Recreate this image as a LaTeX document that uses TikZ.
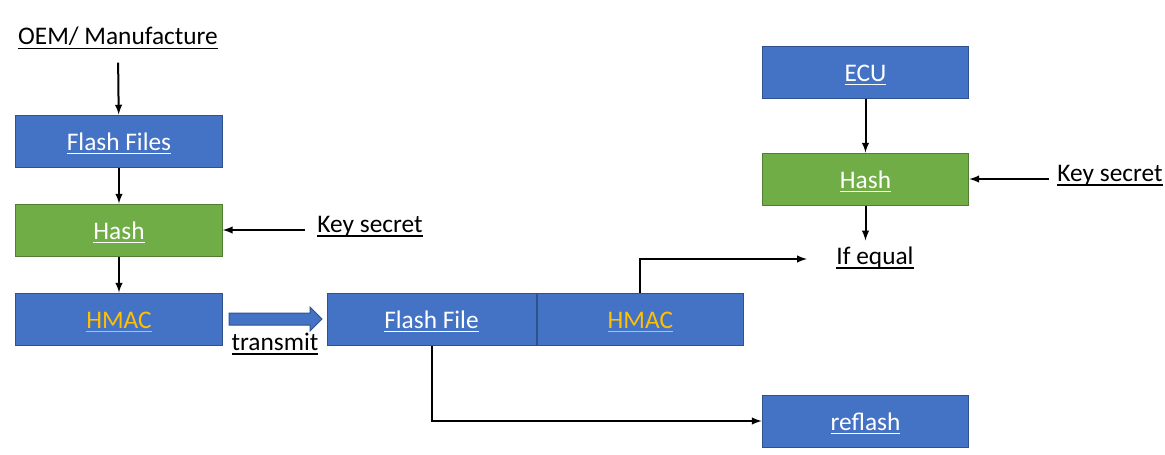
\documentclass[tikz,border=0pt]{standalone}
\usepackage{fontspec}
\setmainfont{Carlito}
\usetikzlibrary{positioning}
\definecolor{boxblue}{HTML}{4472C4}
\definecolor{boxblueline}{HTML}{2F528F}
\definecolor{boxgreen}{HTML}{70AD47}
\definecolor{boxgreenline}{HTML}{507E32}
\definecolor{hmacgold}{HTML}{FFC000}
\newcommand{\ulbl}[1]{\setbox0\hbox{#1}\rlap{\raisebox{-3pt}{\rule{\wd0}{1.1pt}}}\box0}
\begin{document}
\begin{tikzpicture}
	[	x=0.75pt,y=-0.75pt,font=\fontsize{19}{23}\selectfont,
	bluebox/.style={rectangle,draw=boxblueline, fill=boxblue,line width=0.75pt,minimum width=155pt,minimum height=39pt,inner sep=0pt,text=white,text height=17pt,text depth=3pt},
	greenbox/.style={bluebox,draw=boxgreenline,fill=boxgreen},
	plain/.style={draw=none,fill=none,inner sep=1pt,text height=14pt,text depth=4pt},
	arr/.style={->,>=latex,line width=1.5pt}
	]
	\useasboundingbox (0,0) rectangle (1165,454);
	\node[plain] (oem) at (118,38.3){\ulbl{OEM/ Manufacture}};
	\node[bluebox] (files) at (119,141){\ulbl{Flash Files}};
	\node[greenbox] (hashA) at (119,230){\ulbl{Hash}};
	\node[bluebox] (hmacA) at (119,319){\color{hmacgold}\ulbl{HMAC}};
	\node[plain] (keyA) at (370,226){\ulbl{Key secret}};
	\node[plain] (transmit) at (275,344){\ulbl{transmit}};
	\node[bluebox,minimum width=156.75pt] (file) at (431.5,319){\ulbl{Flash File}};
	\node[bluebox,right=0pt of file] (hmacB){\color{hmacgold}\ulbl{HMAC}};
	\node[bluebox] (ecu) at (865.5,72){\ulbl{ECU}};
	\node[greenbox] (hashB) at (865.5,179){\ulbl{Hash}};
	\node[plain] (keyB) at (1110,175){\ulbl{Key secret}};
	\node[plain] (equal) at (875,258){\ulbl{If equal}};
	\node[bluebox] (reflash) at (865.5,421){\ulbl{reflash}};

	\draw[arr, shorten <=8pt] (oem.south) -- (files);
	\draw[arr] (files) -- (hashA);
	\draw[arr] (hashA) -- (hmacA);
	\draw[arr, shorten <=8pt] (keyA.west |- hashA.east) -- (hashA.east);
	\draw[draw=boxblueline,fill=boxblue,line width=0.75pt] (229,313) -- (310,313) -- (310,307) -- (322,319) -- (310,331) -- (310,325) -- (229,325) -- cycle;
	\draw[arr] (file.south) |- (reflash.west);
	\draw[arr, shorten >=21pt] (hmacB.north) |- (equal.west |- 0,259);
	\draw[arr] (ecu) -- (hashB);
	\draw[arr, shorten >=3pt] (hashB.south) -- (hashB.south |- equal.north);
	\draw[arr, shorten <=5pt] (keyB.west |- hashB.east) -- (hashB.east);
\end{tikzpicture}
\end{document}
